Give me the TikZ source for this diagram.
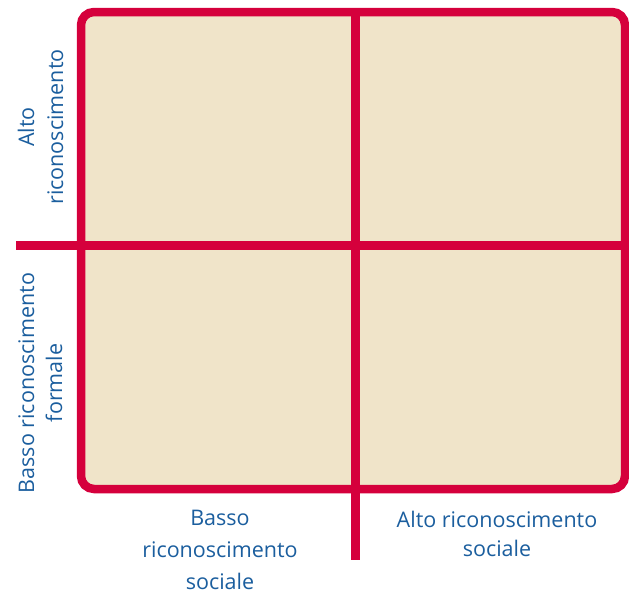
\documentclass[tikz,border=0pt]{standalone}
\usepackage{fontspec}
\setmainfont{Open Sans}
\definecolor{axred}{HTML}{D5003C}
\definecolor{quadfill}{HTML}{F0E4C9}
\definecolor{labblue}{HTML}{1B5E9E}
\tikzset{
  frame/.style={draw=axred, line width=8.5pt, fill=quadfill, rounded corners=13pt},
  divider/.style={draw=axred, line width=8.5pt},
  lab/.style={text=labblue, font=\fontsize{21.5}{25}\selectfont, inner sep=0pt, anchor=base},
  vlab/.style={lab, rotate=90}
}
\begin{document}
\begin{tikzpicture}[x=1pt,y=-1pt]
\useasboundingbox (0,0) rectangle (629,589);
\draw[frame] (81,12) rectangle (625,489);
\coordinate (hl) at (16,245.5);
\coordinate (hr) at (625,245.5);
\coordinate (vt) at (355.5,12);
\coordinate (vb) at (355.5,560);
\draw[divider] (hl) -- (hr);
\draw[divider] (vt) -- (vb);
\node[vlab] (a1) at (34,127) {Alto};
\node[vlab] (a2) at (63,127) {riconoscimento};
\node[vlab] (b1) at (34,383) {Basso riconoscimento};
\node[vlab] (b2) at (62,383) {formale};
\node[lab] (c1) at (220,525) {Basso};
\node[lab] (c2) at (220,557) {riconoscimento};
\node[lab] (c3) at (220,589) {sociale};
\node[lab] (d1) at (497,527) {Alto riconoscimento};
\node[lab] (d2) at (497,556) {sociale};
\end{tikzpicture}
\end{document}
